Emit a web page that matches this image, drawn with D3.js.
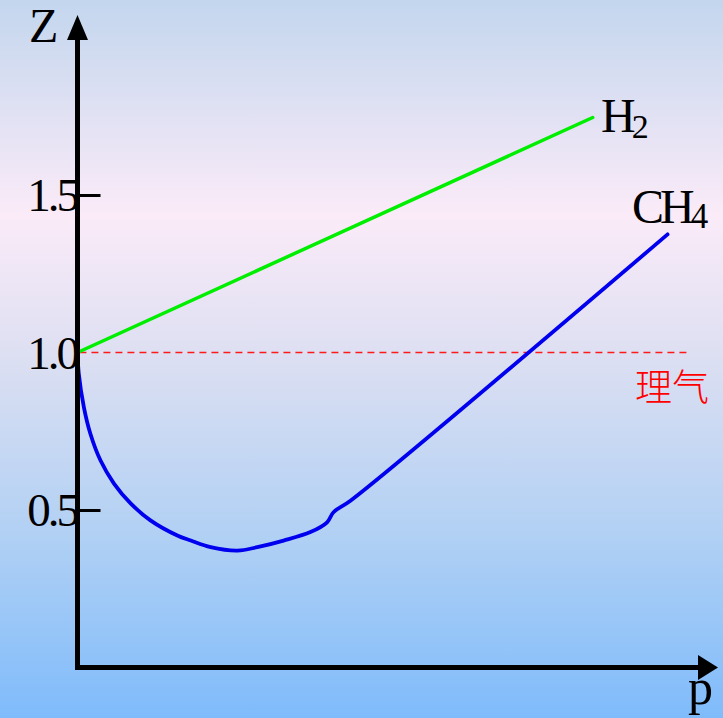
<!DOCTYPE html>
<html><head><meta charset="utf-8">
<script src="https://cdn.jsdelivr.net/npm/d3@7"></script>
<style>html,body{margin:0;padding:0;overflow:hidden;}svg{display:block;}</style>
</head><body>
<svg id="c" width="723" height="718"></svg>
<script>
// ---- data ----
const tickValues = [0.5, 1.0, 1.5];
const tickLabels = ["0.5", "1.0", "1.5"];
const tickMarks = [0.5, 1.5];
const h2P = [0, 8.05];
const h2Z = [1.0, 1.746];
const ch4P = [0, 0.02, 0.10, 0.20, 0.36, 0.57, 0.83, 1.14, 1.56, 1.77, 2.08, 2.50, 2.81, 3.22, 3.64, 3.90, 4.00, 4.27, 9.22];
const ch4Z = [1.0, 0.933, 0.826, 0.743, 0.657, 0.584, 0.521, 0.467, 0.419, 0.403, 0.382, 0.371, 0.382, 0.403, 0.430, 0.461, 0.493, 0.530, 1.375];
const idealP = [0.03, 9.55];
const idealZ = [1.0, 1.0];

const svg = d3.select("#c");
const W = 723, H = 718;

// background gradient
const defs = svg.append("defs");
const g = defs.append("linearGradient").attr("id","bg").attr("x1",0).attr("y1",0).attr("x2",0).attr("y2",1);
[[0,"#c3d6ee"],[0.3,"#fbebf8"],[0.5,"#dcdff2"],[0.75,"#b0d0f4"],[1,"#7fbbfb"]].forEach(s=>g.append("stop").attr("offset",s[0]).attr("stop-color",s[1]));
svg.append("rect").attr("width",W).attr("height",H).attr("fill","url(#bg)");

const x = d3.scaleLinear().domain([0,10]).range([77.5,717.5]);
const y = d3.scaleLinear().domain([0,1.5]).range([667.5,195]);

const serif = "'Liberation Serif','Times New Roman',serif";

// ideal line
const line = d3.line().x(d=>x(d[0])).y(d=>y(d[1]));
svg.append("path").attr("d", line(d3.zip(idealP, idealZ)))
  .attr("stroke","#ff1a1a").attr("stroke-width",1.5).attr("stroke-dasharray","7,5").attr("fill","none");

// H2
svg.append("path").attr("d", line(d3.zip(h2P, h2Z)))
  .attr("stroke","#00ee00").attr("stroke-width",3.5).attr("fill","none").attr("stroke-linecap","round");

// CH4
const curve = d3.line().x(d=>x(d[0])).y(d=>y(d[1])).curve(d3.curveCatmullRom.alpha(0.5));
svg.append("path").attr("d", curve(d3.zip(ch4P, ch4Z)))
  .attr("stroke","#0000ee").attr("stroke-width",3.8).attr("fill","none").attr("stroke-linecap","round");

// axes
const yAxis = d3.axisRight(y).tickValues(tickMarks).tickSize(23).tickFormat("");
const ya = svg.append("g").attr("transform",`translate(${x(0)},0)`).call(yAxis);
ya.select(".domain").remove();
ya.selectAll(".tick line").attr("stroke","#000").attr("stroke-width",3);

svg.append("line").attr("x1",x(0)).attr("x2",x(0)).attr("y1",y(0)+2.5).attr("y2",30).attr("stroke","#000").attr("stroke-width",5);
svg.append("line").attr("x1",x(0)-2.5).attr("x2",705).attr("y1",y(0)).attr("y2",y(0)).attr("stroke","#000").attr("stroke-width",5);
// arrows
svg.append("path").attr("d",`M${x(0)},15 L${x(0)-10.5},40 L${x(0)+10.5},40 Z`).attr("fill","#000");
svg.append("path").attr("d",`M718,${y(0)} L698,${y(0)-12.5} L698,${y(0)+12.5} Z`).attr("fill","#000");

// tick labels
svg.selectAll("text.tl").data(tickValues).enter().append("text").attr("class","tl")
  .attr("x",77).attr("y",d=>y(d)+16).attr("text-anchor","end")
  .attr("font-family",serif).attr("font-size",47).attr("letter-spacing",-3)
  .text((d,i)=>tickLabels[i]);

// axis titles
svg.append("text").attr("x",29).attr("y",42).attr("font-family",serif).attr("font-size",48).text("Z");
svg.append("text").attr("x",688).attr("y",704).attr("font-family",serif).attr("font-size",50).text("p");

// series labels
const h2 = svg.append("text").attr("x",601).attr("y",132).attr("font-family",serif).attr("font-size",48).attr("letter-spacing",-4);
h2.append("tspan").text("H");
h2.append("tspan").attr("font-size",34).attr("dy",6).attr("dx",0).text("2");
const ch4 = svg.append("text").attr("x",632).attr("y",223).attr("font-family",serif).attr("font-size",48).attr("letter-spacing",-4);
ch4.append("tspan").text("CH");
ch4.append("tspan").attr("font-size",35).attr("dy",5).attr("dx",0).text("4");

svg.append("text").attr("x",635).attr("y",401).attr("font-family","'Noto Sans CJK SC'").attr("font-size",37).attr("font-weight",300).attr("fill","#ff0000").text("理气");
</script>
</body></html>
